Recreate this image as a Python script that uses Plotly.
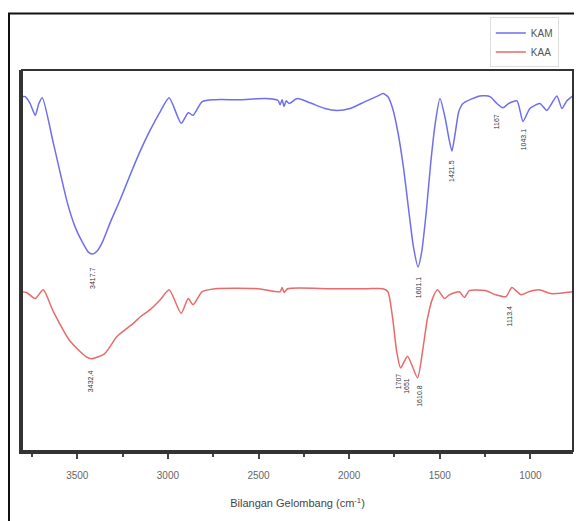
import plotly.graph_objects as go

# Wavenumbers (cm^-1) and transmittance-like values (arbitrary %)
kam_wn = [3805, 3787, 3760, 3732, 3712, 3693, 3632, 3555, 3511, 3472, 3439, 3417, 3390, 3357,
          3318, 3263, 3208, 3153, 3098, 3042, 2993, 2927, 2888, 2861, 2811, 2739, 2601, 2464,
          2392, 2381, 2370, 2359, 2348, 2331, 2287, 2216, 2133, 2067, 1995, 1912, 1841, 1813,
          1786, 1760, 1730, 1700, 1670, 1645, 1620, 1600, 1575, 1550, 1525, 1499, 1470, 1450,
          1433, 1415, 1395, 1372, 1278, 1223, 1185, 1152, 1120, 1074, 1041, 1003, 948, 909,
          854, 826, 799, 766]
kam_t = [93.0, 93.0, 91.2, 88.1, 91.2, 92.7, 80.8, 65.2, 58.7, 54.8, 52.2, 51.7, 52.5, 55.3,
         60.0, 66.0, 72.5, 78.7, 84.2, 89.1, 92.7, 86.0, 88.8, 88.1, 91.7, 92.2, 92.2, 92.5,
         92.0, 90.9, 92.2, 90.4, 91.9, 91.2, 92.5, 91.4, 89.9, 89.4, 89.9, 91.7, 93.2, 93.8,
         93.0, 89.9, 83.4, 74.3, 62.6, 53.5, 48.3, 52.2, 62.6, 75.6, 86.0, 92.5, 87.3, 82.1,
         78.7, 83.4, 89.1, 91.2, 93.2, 93.0, 91.2, 90.1, 91.2, 91.9, 86.5, 89.9, 91.2, 89.4,
         93.2, 89.9, 91.9, 93.2]

kaa_wn = [3805, 3780, 3732, 3688, 3632, 3539, 3450, 3423, 3350, 3280, 3191, 3150, 3098, 3042,
          2993, 2927, 2888, 2861, 2811, 2739, 2500, 2381, 2370, 2359, 2340, 2100, 1900, 1813,
          1786, 1760, 1738, 1716, 1678, 1623, 1595, 1568, 1540, 1513, 1474, 1447, 1392, 1364,
          1337, 1250, 1190, 1135, 1102, 1052, 1008, 953, 882, 766]
kaa_t = [41.8, 41.6, 40.0, 42.3, 36.6, 28.8, 24.7, 24.2, 25.5, 30.1, 33.5, 35.3, 37.1, 39.7,
         42.3, 36.1, 40.0, 38.4, 41.8, 42.6, 42.6, 41.8, 42.9, 41.6, 42.6, 42.6, 42.6, 42.6,
         41.8, 34.8, 26.2, 21.8, 24.9, 19.2, 26.2, 34.8, 40.0, 42.3, 40.0, 41.0, 41.8, 40.3,
         42.1, 42.1, 41.0, 40.5, 42.9, 41.0, 41.8, 42.3, 41.3, 41.8]

# Peak labels: (text, wavenumber, y position)
peak_labels = [
    ("3417.7", 3417, 45.5),
    ("1601.1", 1618, 43.1),
    ("1421.5", 1433, 73.5),
    ("1167", 1185, 86.5),
    ("1043.1", 1041, 81.8),
    ("3432.4", 3423, 18.4),
    ("1707", 1728, 18.4),
    ("1651", 1681, 17.1),
    ("1610.8", 1609, 14.5),
    ("1113.4", 1113, 35.3),
]

tick_vals = [3500, 3000, 2500, 2000, 1500, 1000]
tick_text = ["3500", "3000", "2500", "2000", "1500", "1000"]

fig = go.Figure()
fig.add_trace(go.Scatter(x=kam_wn, y=kam_t, mode="lines", name="KAM",
                         line=dict(color="#6e6ef0", width=1.5, shape="spline", smoothing=0.6)))
fig.add_trace(go.Scatter(x=kaa_wn, y=kaa_t, mode="lines", name="KAA",
                         line=dict(color="#e86a6a", width=1.5, shape="spline", smoothing=0.6)))

for txt, xw, yv in peak_labels:
    fig.add_annotation(x=xw, y=yv, text=txt, showarrow=False, textangle=-90,
                       font=dict(size=7, color="#333333", family="Liberation Sans"))

fig.update_layout(
    width=574, height=513,
    margin=dict(l=14, r=9, t=58, b=70),
    paper_bgcolor="white", plot_bgcolor="white",
    font=dict(family="Liberation Sans, Arial, sans-serif", color="#555555"),
    showlegend=True,
    legend=dict(x=0.849, y=1.138, xanchor="left", yanchor="top",
                bgcolor="white", bordercolor="#dddddd", borderwidth=1,
                font=dict(size=10, color="#555555"), tracegroupgap=0, itemwidth=30),
    xaxis=dict(range=[3805, 765], tickvals=tick_vals, ticktext=tick_text,
               ticks="outside", ticklen=5, tickwidth=2, tickcolor="#444",
               ticklabelstandoff=8,
               minor=dict(ticks="outside", ticklen=3, tickwidth=2, tickcolor="#444", dtick=250, tick0=750),
               showgrid=False, zeroline=False, showline=True, linecolor="#333", linewidth=3,
               tickfont=dict(size=10, color="#666666"),
               title=dict(text="Bilangan Gelombang (cm<sup>-1</sup>)", font=dict(size=11, color="#444444"),
                          standoff=20)),
    yaxis=dict(range=[0, 100], showticklabels=False, ticks="", showgrid=False, zeroline=False,
               showline=True, linecolor="#333", linewidth=3),
)

# plot frame and outer border
fig.add_shape(type="rect", xref="paper", yref="paper", x0=0, y0=0, x1=1, y1=1,
              line=dict(color="#333333", width=2))
fig.add_shape(type="rect", xref="paper", yref="paper", x0=-0.0236, y0=-0.2, x1=1.009, y1=1.148,
              line=dict(color="#111111", width=2))

fig.write_html("out.html")
